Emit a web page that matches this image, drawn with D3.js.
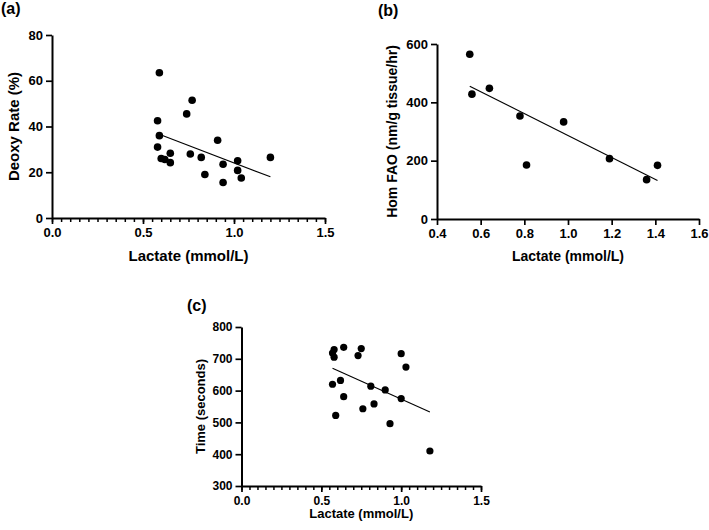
<!DOCTYPE html>
<html><head><meta charset="utf-8">
<script src="https://cdn.jsdelivr.net/npm/d3@7"></script>
<style>body{margin:0;background:#fff}svg{display:block}text{font-family:"Liberation Sans",Arial,sans-serif;font-weight:bold;fill:#000}</style>
</head><body>
<svg id="c" width="709" height="530"></svg>
<script>
// Panel (a): Deoxy Rate vs Lactate
const lactateA = [0.59,0.77,0.74,0.58,0.59,0.58,0.60,0.62,0.65,0.65,0.76,0.82,0.84,0.91,0.94,0.94,1.02,1.02,1.04,1.20];
const deoxyA   = [63.5,51.5,45.5,42.5,36.0,31.0,26.0,25.6,28.3,24.2,28.0,26.5,19.0,34.0,23.5,15.5,25.0,20.8,17.5,26.5];
const fitAx = [0.60,1.20], fitAy = [36.3,18.0];
// Panel (b): Hom FAO vs Lactate
const lactateB = [0.55,0.56,0.64,0.78,0.81,0.98,1.19,1.36,1.41];
const fao      = [565,428,448,353,185,333,207,135,184];
const fitBx = [0.55,1.41], fitBy = [455,132];
// Panel (c): Time vs Lactate
const lactateC = [0.58,0.57,0.58,0.64,0.75,0.73,1.00,1.03,0.57,0.62,0.81,0.90,1.00,0.64,0.83,0.76,0.59,0.93,1.18];
const timeC    = [729,718,705,736,732,710,716,674,620,632,614,602,575,581,558,543,522,496,410];
const fitCx = [0.57,1.18], fitCy = [670,533];
// Ticks
const xTicksA = [0.0,0.5,1.0,1.5], yTicksA = [0,20,40,60,80];
const xTicksB = [0.4,0.6,0.8,1.0,1.2,1.4,1.6], yTicksB = [0,200,400,600];
const xTicksC = [0.0,0.5,1.0,1.5], yTicksC = [300,400,500,600,700,800];

const svg = d3.select("#c");

function panel(o){
  const g = svg.append("g");
  const x = d3.scaleLinear().domain(o.xd).range(o.xr);
  const y = d3.scaleLinear().domain(o.yd).range(o.yr);
  const fmt = d3.format(".1f");
  if (o.minor){
    const mg = g.append("g").attr("transform",`translate(0,${o.yr[0]})`)
      .call(d3.axisBottom(x).tickValues(d3.range(o.xd[0],o.xd[1]+1e-9,o.minor)).tickSize(4).tickSizeOuter(0).tickFormat(""));
    mg.select(".domain").remove();
    mg.selectAll("line").attr("stroke","#000").attr("stroke-width",1.5);
  }
  const xa = g.append("g").attr("transform",`translate(0,${o.yr[0]})`)
    .call(d3.axisBottom(x).tickValues(o.xt).tickSize(6).tickSizeOuter(0).tickPadding(4).tickFormat(fmt));
  const ya = g.append("g").attr("transform",`translate(${o.xr[0]},0)`)
    .call(d3.axisLeft(y).tickValues(o.yt).tickSize(6).tickSizeOuter(0).tickPadding(3).tickFormat(d3.format("d")));
  [xa,ya].forEach(a=>{
    a.select(".domain").attr("stroke","#000").attr("stroke-width",2);
    a.selectAll(".tick line").attr("stroke","#000").attr("stroke-width",1.7);
    a.selectAll("text").attr("font-size",o.tf).attr("font-family","Liberation Sans, Arial, sans-serif").attr("font-weight","bold").attr("fill","#000");
  });
  g.append("line").attr("x1",x(o.fx[0])).attr("y1",y(o.fy[0])).attr("x2",x(o.fx[1])).attr("y2",y(o.fy[1]))
    .attr("stroke","#000").attr("stroke-width",1.1);
  g.selectAll("circle.p").data(o.xs.map((v,i)=>[v,o.ys[i]])).join("circle")
    .attr("cx",d=>x(d[0])).attr("cy",d=>y(d[1])).attr("r",o.r).attr("fill","#000");
  g.append("text").attr("x",(o.xr[0]+o.xr[1])/2).attr("y",o.xly).attr("text-anchor","middle")
    .attr("font-size",o.lf).text("Lactate (mmol/L)");
  g.append("text").attr("transform",`translate(${o.ylx},${(o.yr[0]+o.yr[1])/2}) rotate(-90)`)
    .attr("text-anchor","middle").attr("font-size",o.ylf).text(o.ylab);
  g.append("text").attr("x",o.tx).attr("y",o.ty).attr("font-size",16).text(o.title);
}

panel({xd:[0,1.5],xr:[52,325],yd:[0,80],yr:[218,35],xt:xTicksA,yt:yTicksA,minor:0.05,
  xs:lactateA,ys:deoxyA,fx:fitAx,fy:fitAy,r:3.8,tf:13,lf:15,ylf:15,xly:261,ylx:19,
  ylab:"Deoxy Rate (%)",title:"(a)",tx:1,ty:14});
panel({xd:[0.4,1.6],xr:[437,699],yd:[0,600],yr:[219,44],xt:xTicksB,yt:yTicksB,minor:null,
  xs:lactateB,ys:fao,fx:fitBx,fy:fitBy,r:3.8,tf:13,lf:14,ylf:14,xly:261,ylx:397,
  ylab:"Hom FAO (nm/g tissue/hr)",title:"(b)",tx:378,ty:16});
panel({xd:[0,1.5],xr:[241.5,481],yd:[300,800],yr:[486,327],xt:xTicksC,yt:yTicksC,minor:0.05,
  xs:lactateC,ys:timeC,fx:fitCx,fy:fitCy,r:3.6,tf:12,lf:13,ylf:13,xly:518,ylx:205,
  ylab:"Time (seconds)",title:"(c)",tx:187,ty:311});
</script>
</body></html>
